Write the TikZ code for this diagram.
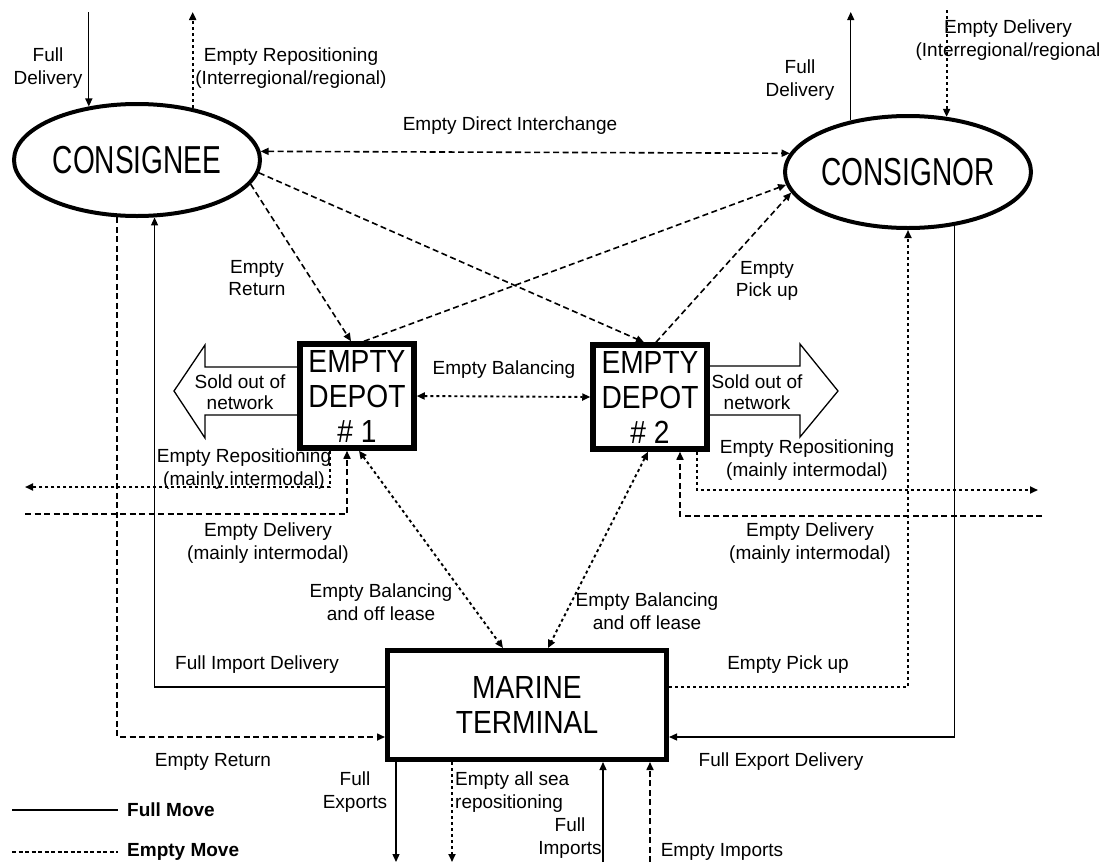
\documentclass[tikz,border=0pt]{standalone}
\usepackage{fontspec}
\setmainfont{Liberation Sans}
\newfontfamily\ellfont{Liberation Sans}[FakeStretch=0.72]
\newfontfamily\boxfont{Liberation Sans}[FakeStretch=0.88]
\usetikzlibrary{arrows.meta,shapes.geometric}
\begin{document}
\begin{tikzpicture}[x=1pt,y=-1pt,
  lbl/.style={font=\fontsize{19}{22.5}\selectfont, align=center, inner sep=0pt},
  party/.style={ellipse, draw, line width=4pt, minimum width=246pt, minimum height=112pt, inner sep=0pt, font=\ellfont\fontsize{39}{40}\selectfont},
  depot/.style={draw, line width=5.5pt, minimum width=114pt, minimum height=104pt, inner sep=0pt, align=center, font=\boxfont\fontsize{32}{35}\selectfont},
  terminal/.style={draw, line width=5pt, minimum width=279pt, minimum height=109pt, inner sep=0pt, align=center, font=\boxfont\fontsize{32}{35}\selectfont},
  full/.style={line width=1.3pt},
  edash/.style={line width=1.6pt, dash pattern=on 6pt off 3.5pt},
  edot/.style={line width=1.9pt, dash pattern=on 3pt off 3pt},
  soldout/.style={line width=1.3pt, fill=white},
  tip/.style={-{Triangle[length=8pt,width=7pt]}},
  tips/.style={{Triangle[length=8pt,width=7pt]}-{Triangle[length=8pt,width=7pt]}}
]
\path[use as bounding box, fill=white] (0,0) rectangle (1104,865);

% sold out arrows (shapes)
\draw[soldout] (300,367) -- (205,367) -- (205,345) -- (174,391) -- (205,438) -- (205,415) -- (300,415);
\draw[soldout] (706,366) -- (800,366) -- (800,344) -- (838,391) -- (800,437) -- (800,415) -- (706,415);
\node[lbl, font=\fontsize{19}{21}\selectfont] (sold1) at (240,392) {Sold out of\\network};
\node[lbl, font=\fontsize{19}{21}\selectfont] (sold2) at (757,392) {Sold out of\\network};

% main nodes
\node[party] (consignee) at (137,160) {CONSIGNEE};
\node[party] (consignor) at (908,172) {CONSIGNOR};
\node[depot] (depot1) at (357,396) {EMPTY\\DEPOT\\\# 1};
\node[depot] (depot2) at (650,397) {EMPTY\\DEPOT\\\# 2};
\node[terminal] (marine) at (527,705) {MARINE\\TERMINAL};

% free-end coordinates
\coordinate (top1) at (88,12);
\coordinate (top2) at (193,12);
\coordinate (top3) at (851,12);
\coordinate (top4) at (946,10);
\coordinate (repL) at (25,487);
\coordinate (delL) at (25,514);
\coordinate (repR) at (1038,490);
\coordinate (delR) at (1042,516);
\coordinate (fe) at (396,862);
\coordinate (ea) at (452,862);
\coordinate (fi) at (603,862);
\coordinate (ei) at (650,862);

% top arrows
\draw[full,tip] (consignee.132 |- top1) -- (consignee.132);
\draw[edot,tip] (consignee.43) -- (consignee.43 |- top2);
\draw[full,tip] (consignor.138) -- (consignor.138 |- top3);
\draw[edot,tip] (consignor.55 |- top4) -- (consignor.55);

% direct interchange
\draw[edash,tips] (consignee.4) -- (consignor.171);

% consignee/consignor to depots
\draw[edash,tip] (consignee.-12) -- ([xshift=-6pt]depot1.north);
\draw[edash,tip] (consignee.-6) -- ([xshift=-6pt]depot2.north);
\draw[edash,tip] ([xshift=7pt]depot1.north) -- (consignor.186);
\draw[edash,tip] ([xshift=6pt]depot2.north) -- (consignor.190);

% depot balancing
\draw[edot,tips] (depot1.east) -- (depot2.west);
\draw[edot,tips] ([xshift=2pt]depot1.south) -- ([xshift=-24pt]marine.north);
\draw[edot,tips] ([xshift=-2pt]depot2.south) -- ([xshift=21pt]marine.north);

% repositioning / delivery mainly intermodal
\draw[edot,tip] ([xshift=-27pt]depot1.south) |- (repL);
\draw[edash,tip] (delL) -| ([xshift=-10pt]depot1.south);
\draw[edot,tip] ([xshift=47pt]depot2.south) |- (repR);
\draw[edash,tip] (delR) -| ([xshift=30pt]depot2.south);

% terminal to/from consignee/consignor
\draw[full,tip] ([yshift=18pt]marine.west) -| (consignee.-73);
\draw[edash,tip] (consignee.-109) |- ([yshift=-32pt]marine.west);
\draw[edot,tip] ([yshift=18pt]marine.east) -| (consignor.south);
\draw[full,tip] (consignor.-49) |- ([yshift=-32pt]marine.east);

% bottom arrows
\draw[full,tip] (fe |- marine.south) -- (fe);
\draw[edot,tip] (ea |- marine.south) -- (ea);
\draw[full,tip] (fi) -- (fi |- marine.south);
\draw[edash,tip] (ei) -- (ei |- marine.south);

% labels
\node[lbl] (l1) at (48,68) {Full\\Delivery};
\node[lbl] (l2) at (291,68) {Empty Repositioning\\(Interregional/regional)};
\node[lbl] (l3) at (800,80) {Full\\Delivery};
\node[lbl] (l4) at (1008,40) {Empty Delivery\\(Interregional/regional};
\node[lbl] (l5) at (510,126) {Empty Direct Interchange};
\node[lbl] (l6) at (257,278) {Empty\\Return};
\node[lbl] (l7) at (767,281) {Empty\\Pick up};
\node[lbl] (l8) at (504,370) {Empty Balancing};
\node[lbl] (l9) at (244,469) {Empty Repositioning\\(mainly intermodal)};
\node[lbl] (l10) at (807,460) {Empty Repositioning\\(mainly intermodal)};
\node[lbl] (l11) at (268,543) {Empty Delivery\\(mainly intermodal)};
\node[lbl] (l12) at (810,543) {Empty Delivery\\(mainly intermodal)};
\node[lbl] (l13) at (381,602) {Empty Balancing\\and off lease};
\node[lbl] (l14) at (647,611) {Empty Balancing\\and off lease};
\node[lbl] (l15) at (257,665) {Full Import Delivery};
\node[lbl] (l16) at (788,665) {Empty Pick up};
\node[lbl] (l17) at (213,762) {Empty Return};
\node[lbl] (l18) at (781,762) {Full Export Delivery};
\node[lbl] (l19) at (355,792) {Full\\Exports};
\node[lbl, anchor=west, align=left] (l20) at (455,792) {Empty all sea\\repositioning};
\node[lbl] (l21) at (570,838) {Full\\Imports};
\node[lbl] (l22) at (722,852) {Empty Imports};

% legend
\coordinate (lga) at (12,810);
\coordinate (lgb) at (118,810);
\coordinate (lgc) at (12,852);
\coordinate (lgd) at (118,852);
\draw[full] (lga) -- (lgb);
\draw[line width=1.2pt, dash pattern=on 4pt off 2.5pt] (lgc) -- (lgd);
\node[lbl, anchor=west, font=\bfseries\fontsize{19}{23}\selectfont] (lg1) at (127,810) {Full Move};
\node[lbl, anchor=west, font=\bfseries\fontsize{19}{23}\selectfont] (lg2) at (127,852) {Empty Move};
\end{tikzpicture}
\end{document}
